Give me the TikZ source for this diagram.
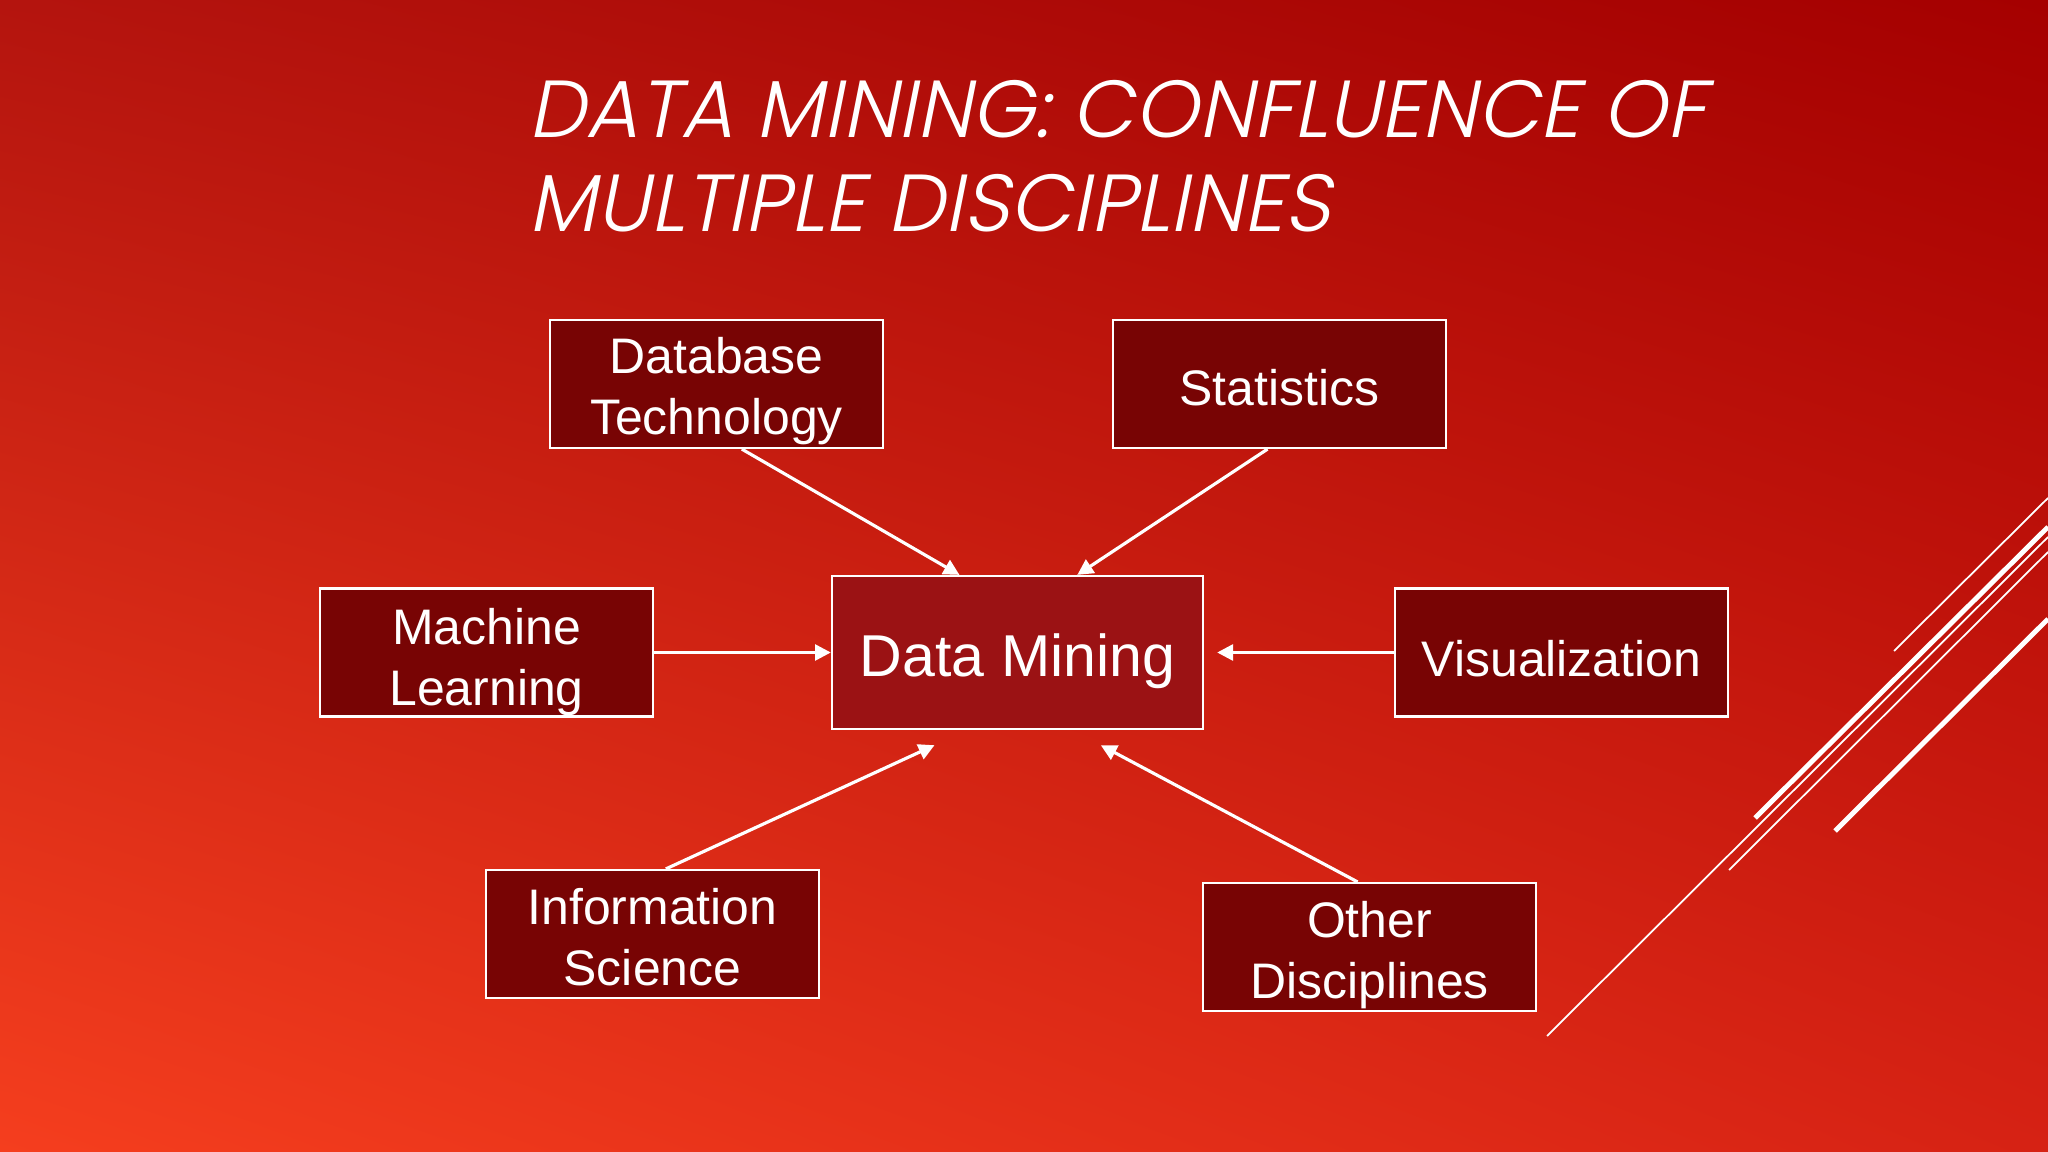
\documentclass[tikz,border=0pt]{standalone}
\usepackage{fontspec}
\setmainfont{Liberation Sans}
\newfontfamily\titlefont[FakeSlant=0.2]{Poppins Light}
\usetikzlibrary{arrows.meta, shadings}
\definecolor{bgtl}{RGB}{180,20,14}
\definecolor{bgtr}{RGB}{165,0,0}
\definecolor{bgbl}{RGB}{245,62,30}
\definecolor{bgbr}{RGB}{214,34,20}
\definecolor{boxred}{RGB}{120,4,4}
\definecolor{hubred}{RGB}{155,18,20}

\begin{document}
\begin{tikzpicture}[x=0.01cm, y=0.01cm]
\tikzstyle{box}=[draw=white, line width=0.6pt, fill=boxred, text=white, minimum width=3.33cm, minimum height=1.28cm, align=center, inner sep=0pt, text depth=0pt, font=\fontsize{14.2}{17.4}\selectfont]
\tikzstyle{oneline}=[box, text height=12pt]
\tikzstyle{twoline}=[box, text height=29.5pt]
\tikzstyle{feed}=[white, line width=0.9pt, -{Triangle[length=4.5pt,width=4.5pt]}]
\tikzstyle{deco}=[white, line cap=butt]
\useasboundingbox (0,0) rectangle (2048,-1152);
\shade [upper left=bgtl, upper right=bgtr, lower left=bgbl, lower right=bgbr] (0,0) rectangle (2048,-1152);
\draw [deco, line width=0.5pt] (1894,-651) -- (2048,-498);
\draw [deco, line width=1.4pt] (1755,-818) -- (2048,-527);
\draw [deco, line width=0.5pt] (1547,-1036) -- (2048,-537);
\draw [deco, line width=0.5pt] (1729,-870) -- (2048,-552);
\draw [deco, line width=1.4pt] (1835,-831) -- (2048,-619);
\node (title1) [anchor=base west, text=white, inner sep=0pt, font=\titlefont\fontsize{23}{27}\selectfont] at (528,-138) {DATA MINING: CONFLUENCE OF};
\node (title2) [anchor=base west, text=white, inner sep=0pt, font=\titlefont\fontsize{23}{27}\selectfont] at (528,-232) {MULTIPLE DISCIPLINES};
\node (db) [twoline, text height=28.6pt] at (716.5,-384) {Database\\Technology};
\node (stat) [oneline] at (1279.5,-384) {Statistics};
\node (ml) [twoline, text height=30.1pt] at (486.5,-652.5) {Machine\\Learning};
\node (vis) [oneline, text height=13.4pt] at (1561.5,-652.5) {Visualization};
\node (info) [twoline] at (652.5,-934) {Information\\Science};
\node (other) [twoline] at (1369.5,-947) {Other\\Disciplines};
\node (dm) [oneline, fill=hubred, minimum width=3.71cm, minimum height=1.53cm, text height=13.7pt, font=\fontsize{16.8}{20}\selectfont] at (1017.5,-652.5) {Data Mining};
\draw [feed] ([xshift=7.2pt]db.south) -- ([xshift=-16.5pt]dm.north);
\draw [feed] ([xshift=-3.4pt]stat.south) -- ([xshift=17pt]dm.north);
\draw [feed] (ml.east) -- (dm.west);
\draw [feed] (vis.west) -- ([xshift=3.7pt]dm.east);
\draw [feed] ([xshift=3.8pt]info.north) -- ([xshift=-23.6pt,yshift=-4.3pt]dm.south);
\draw [feed] ([xshift=-3.4pt]other.north) -- ([xshift=23.7pt,yshift=-4.3pt]dm.south);
\end{tikzpicture}
\end{document}
